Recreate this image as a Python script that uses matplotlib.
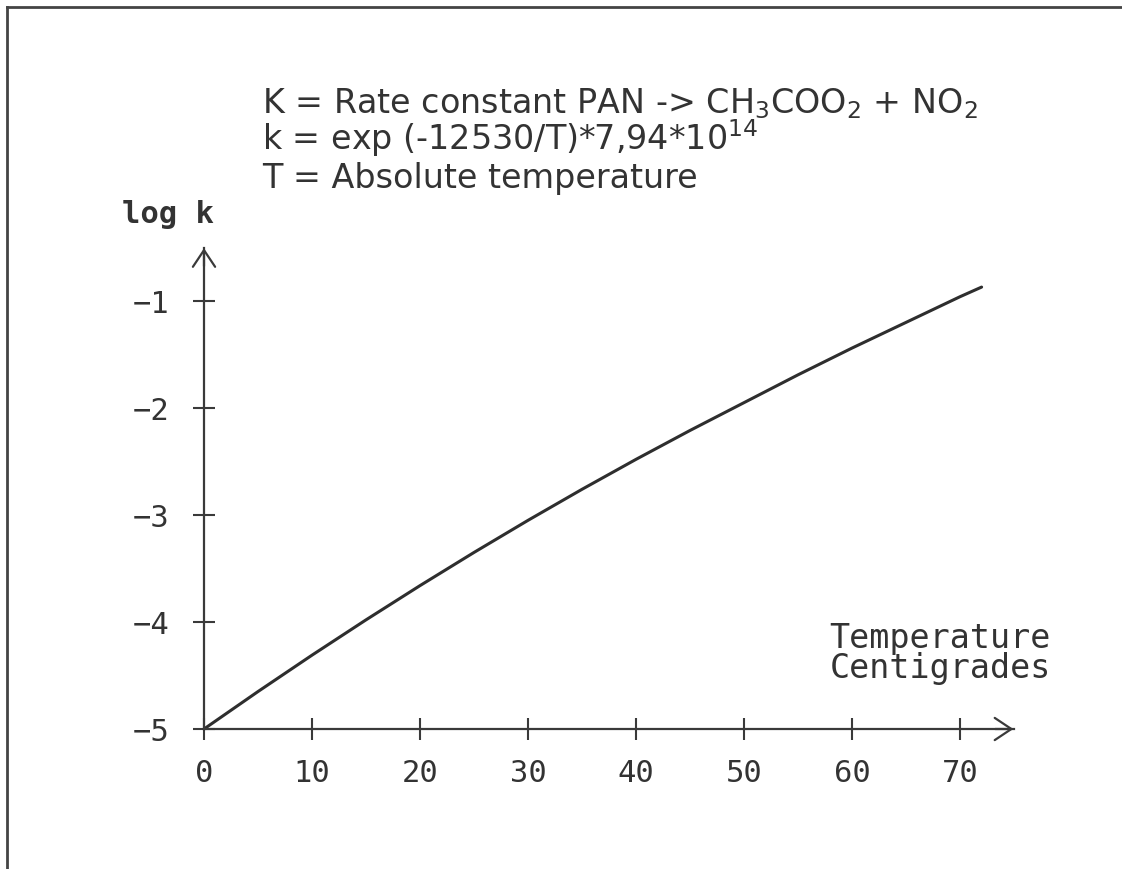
import matplotlib
matplotlib.use('Agg')
import matplotlib.pyplot as plt
from matplotlib.lines import Line2D

# values (temperature in C, log k)
temperature = [0, 5, 10, 15, 20, 25, 30, 35, 40, 45, 50, 55, 60, 65, 70, 72]
log_k = [-5.0, -4.65, -4.31, -3.98, -3.66, -3.35, -3.05, -2.76, -2.48,
         -2.21, -1.95, -1.69, -1.44, -1.20, -0.96, -0.87]

x_ticks = [0, 10, 20, 30, 40, 50, 60, 70]
y_ticks = [-5, -4, -3, -2, -1]

ink = '#3a3a3a'
mono = 'DejaVu Sans Mono'
sans = 'DejaVu Sans'

fig = plt.figure(figsize=(11.22, 8.70), dpi=100)
ax = fig.add_axes([0, 0, 1, 1])
ax.patch.set_alpha(0)

# pixel mapping: x=0 -> 204px, 10.8 px per degree; y=-5 -> 730px from top, 107 px per unit
ax.set_xlim(-204 / 10.8, (1122 - 204) / 10.8)
ax.set_ylim(-5 - 140 / 107, -5 + 730 / 107)

ax.plot(temperature, log_k, color='#2e2e2e', lw=2.2, solid_capstyle='round',
        solid_joinstyle='round')

for s in ['top', 'right']:
    ax.spines[s].set_visible(False)
ax.spines['left'].set_position(('data', 0))
ax.spines['bottom'].set_position(('data', -5))
ax.spines['left'].set_bounds(-5, -0.5)
ax.spines['bottom'].set_bounds(0, 75)
for s in ['left', 'bottom']:
    ax.spines[s].set_color(ink)
    ax.spines[s].set_linewidth(1.6)

ax.set_xticks(x_ticks)
ax.set_yticks(y_ticks)
ax.tick_params(direction='inout', length=16, width=1.5, color=ink,
               labelsize=22, labelcolor='#333333')
ax.tick_params(axis='x', pad=13)
ax.tick_params(axis='y', pad=17)
for lab in ax.get_xticklabels() + ax.get_yticklabels():
    lab.set_family(mono)

# arrow heads at axis ends
arrow = dict(arrowstyle='->,head_length=1.2,head_width=0.8', color=ink, lw=1.6)
ax.annotate('', xy=(75.2, -5), xytext=(73, -5), arrowprops=arrow)
ax.annotate('', xy=(0, -0.48), xytext=(0, -0.7), arrowprops=arrow)

ax.text(-7.6, -0.26, 'log k', family=mono, fontsize=22, color='#333333',
        fontweight='bold', ha='left', va='baseline')
ax.text(78.4, -4.514, 'Temperature\nCentigrades', family=mono, fontsize=24,
        color='#333333', ha='right', va='baseline', linespacing=0.9)

ax.text(5.4, 0.766, r'K = Rate constant PAN -> CH$_3$COO$_2$ + NO$_2$', family=sans,
        fontsize=24, color='#333333', va='baseline')
ax.text(5.4, 0.42, r'k = exp (-12530/T)*7,94*10$^{14}$', family=sans,
        fontsize=24, color='#333333', va='baseline')
ax.text(5.4, 0.065, 'T = Absolute temperature', family=sans,
        fontsize=24, color='#333333', va='baseline')

# scanned frame: left and top edges
fig.add_artist(Line2D([7 / 1122, 7 / 1122], [0, 1 - 8 / 870], color='#444444', lw=2))
fig.add_artist(Line2D([7 / 1122, 1], [1 - 8 / 870, 1 - 8 / 870], color='#444444', lw=2))

fig.savefig('out.png', dpi=100)
